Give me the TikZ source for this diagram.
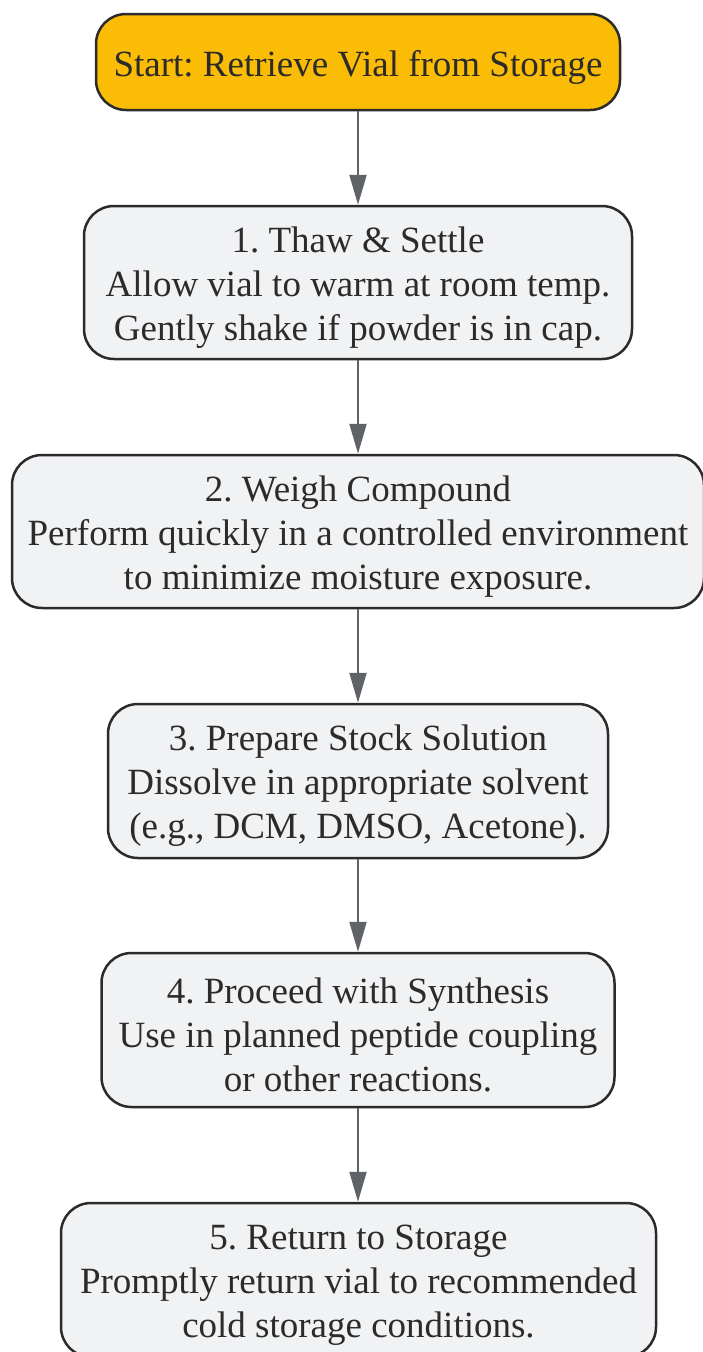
\documentclass[tikz,border=0pt]{standalone}
\usepackage{fontspec}
\setmainfont{Liberation Serif}
\usetikzlibrary{arrows.meta}
\definecolor{startfill}{HTML}{FBBC05}
\definecolor{boxfill}{HTML}{F1F2F4}
\definecolor{edgecol}{HTML}{2B2B2B}
\definecolor{arrowcol}{HTML}{5F6368}
\definecolor{txtcol}{HTML}{2B2B2B}
\tikzset{
  boxtext/.style={align=center, text=txtcol, inner sep=0pt, font=\fontsize{37}{44}\selectfont\frenchspacing, yshift=-5pt},
  stepbox/.style={draw=edgecol, line width=2.5pt, rounded corners=30pt, fill=boxfill, inner sep=0pt},
  startbox/.style={stepbox, fill=startfill},
  flow/.style={draw=arrowcol, line width=2.2pt, -{Triangle[width=17pt,length=30pt]}}
}
\begin{document}
\begin{tikzpicture}[x=1pt,y=-1pt]
\useasboundingbox (0,0) rectangle (703,1352);
\clip (0,0) rectangle (703,1352);
\node[startbox, minimum width=524, minimum height=96,
  label={[boxtext]center:{Start: Retrieve Vial from Storage}}] (s0) at (358,62) {};
\node[stepbox, minimum width=548, minimum height=153,
  label={[boxtext]center:{1. Thaw \& Settle\\Allow vial to warm at room temp.\\Gently shake if powder is in cap.}}] (s1) at (358,282.5) {};
\node[stepbox, minimum width=692, minimum height=153,
  label={[boxtext]center:{2. Weigh Compound\\Perform quickly in a controlled environment\\to minimize moisture exposure.}}] (s2) at (358,531.5) {};
\node[stepbox, minimum width=500, minimum height=154,
  label={[boxtext]center:{3. Prepare Stock Solution\\Dissolve in appropriate solvent\\(e.g., DCM, DMSO, Acetone).}}] (s3) at (358,781) {};
\node[stepbox, minimum width=513, minimum height=154,
  label={[boxtext]center:{4. Proceed with Synthesis\\Use in planned peptide coupling\\or other reactions.}}] (s4) at (358,1030) {};
\node[stepbox, minimum width=595, minimum height=154,
  label={[boxtext]center:{5. Return to Storage\\Promptly return vial to recommended\\cold storage conditions.}}] (s5) at (358.5,1280) {};
\draw[flow] (s0.south) -- (s1.north);
\draw[flow] (s1.south) -- (s2.north);
\draw[flow] (s2.south) -- (s3.north);
\draw[flow] (s3.south) -- (s4.north);
\draw[flow] (s4.south) -- (s4.south |- s5.north);
\end{tikzpicture}
\end{document}
